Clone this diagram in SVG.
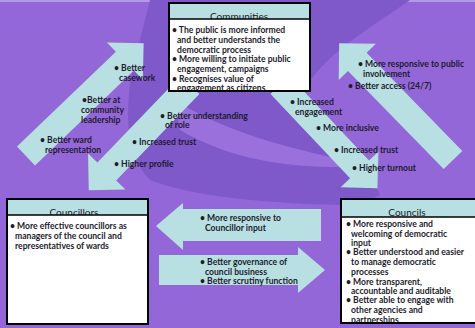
<svg xmlns="http://www.w3.org/2000/svg" width="475" height="328" viewBox="0 0 475 328">
  <defs>
    <style>
      .arrow { fill: #b8e0e2; }
      .lbl { font-family: Lato, "Open Sans", sans-serif; font-weight: 700; font-size: 8.6px; fill: #1d1b2b; }
      .title { font-family: Lato, "Open Sans", sans-serif; font-weight: 400; font-size: 10px; fill: #1d1b2b; text-anchor: middle; }
      .head { fill: #b8e0e2; }
      .body { fill: #ffffff; }
      .frame { fill: none; stroke: #000000; stroke-width: 2; }
      .rule { stroke: #000000; stroke-width: 1.5; }
    </style>
    <clipPath id="clipComm"><rect x="170" y="19" width="139" height="71"/></clipPath>
    <clipPath id="clipCouncils"><rect x="342" y="217" width="140" height="105"/></clipPath>
  </defs>

  <!-- background with a soft darker swirl -->
  <rect width="475" height="328" fill="#9467d9"/>
  <rect width="475" height="2" fill="#b09ce3"/>
  <path d="M150,0 L410,0 C360,35 315,60 300,100 C330,140 365,160 380,195 L360,205 C300,205 200,200 150,180 C120,150 125,90 140,40 Z" fill="#7f58ca"/>
  <path d="M175,100 C220,130 290,150 370,165 C300,172 230,160 180,130 Z" fill="#9a70dd"/>

  <!-- connectors -->
  <g id="connectors">
    <!-- councillors to communities -->
    <polygon class="arrow" transform="translate(26,156) rotate(-43.8)" points="0,-13 137,-13 137,-26 163,0 137,26 137,13 0,13"/>
    <!-- communities to councillors -->
    <polygon class="arrow" transform="translate(190,85) rotate(133.9)" points="0,-13 120,-13 120,-26 146,0 120,26 120,13 0,13"/>
    <!-- communities to councils -->
    <polygon class="arrow" transform="translate(280,85) rotate(46.7)" points="0,-13 116,-13 116,-26 142,0 116,26 116,13 0,13"/>
    <!-- councils to communities -->
    <polygon class="arrow" transform="translate(453,160) rotate(-134.3)" points="0,-13 137,-13 137,-26 163,0 137,26 137,13 0,13"/>
    <!-- councils to councillors -->
    <polygon class="arrow" points="321,209 183,209 183,203 156,226 183,250 183,241 321,241"/>
    <!-- councillors to councils -->
    <polygon class="arrow" points="159,255 298,255 298,247 325,270 298,293 298,285 159,285"/>

    <g class="lbl">
      <text x="114" y="71">• Better</text>
      <text x="119" y="81">casework</text>
      <text x="82" y="103">•Better at</text>
      <text x="81" y="113">community</text>
      <text x="81" y="123">leadership</text>
      <text x="40" y="143">• Better ward</text>
      <text x="45" y="153">representation</text>

      <text x="160" y="119">• Better understanding</text>
      <text x="165" y="127.5">of role</text>
      <text x="132" y="145">• Increased trust</text>
      <text x="114" y="167">• Higher profile</text>

      <text x="290" y="105">• Increased</text>
      <text x="295" y="115">engagement</text>
      <text x="316" y="131">• More inclusive</text>
      <text x="334" y="153">• Increased trust</text>
      <text x="352" y="171">• Higher turnout</text>

      <text x="358" y="67">• More responsive to public</text>
      <text x="363" y="77">involvement</text>
      <text x="348" y="89">• Better access (24/7)</text>

      <text x="200" y="221">• More responsive to</text>
      <text x="205" y="231">Councillor input</text>
      <text x="200" y="265">• Better governance of</text>
      <text x="205" y="275">council business</text>
      <text x="200" y="283.5">• Better scrutiny function</text>
    </g>
  </g>

  <!-- Communities -->
  <g id="communities">
    <rect class="head" x="169" y="3" width="141" height="88"/>
    <text class="title" x="239" y="20">Communities</text>
    <rect class="body" x="169" y="19" width="141" height="72"/>
    <g class="lbl" clip-path="url(#clipComm)">
      <text x="172" y="33">• The public is more informed</text>
      <text x="177" y="43">and better understands the</text>
      <text x="177" y="53">democratic process</text>
      <text x="172" y="61.5">• More willing to initiate public</text>
      <text x="177" y="71.5">engagement, campaigns</text>
      <text x="172" y="81.5">• Recognises value of</text>
      <text x="177" y="91">engagement as citizens</text>
    </g>
    <line class="rule" x1="169" y1="19" x2="310" y2="19"/>
    <rect class="frame" x="169" y="3" width="141" height="88"/>
  </g>

  <!-- Councillors -->
  <g id="councillors">
    <rect class="head" x="7" y="199" width="141" height="125"/>
    <text class="title" x="74" y="216">Councillors</text>
    <rect class="body" x="7" y="215" width="141" height="109"/>
    <g class="lbl">
      <text x="10" y="229">• More effective councillors as</text>
      <text x="15" y="239">managers of the council and</text>
      <text x="15" y="249">representatives of wards</text>
    </g>
    <line class="rule" x1="7" y1="215" x2="148" y2="215"/>
    <rect class="frame" x="7" y="199" width="141" height="125"/>
  </g>

  <!-- Councils -->
  <g id="councils">
    <rect class="head" x="341" y="199" width="140" height="124"/>
    <text class="title" x="407" y="216">Councils</text>
    <rect class="body" x="341" y="217" width="140" height="106"/>
    <g class="lbl" clip-path="url(#clipCouncils)">
      <text x="346" y="227">• More responsive and</text>
      <text x="351" y="237">welcoming of democratic</text>
      <text x="351" y="245.5">input</text>
      <text x="346" y="255">• Better understood and easier</text>
      <text x="351" y="265">to manage democratic</text>
      <text x="351" y="275">processes</text>
      <text x="346" y="285">• More transparent,</text>
      <text x="351" y="293.5">accountable and auditable</text>
      <text x="346" y="303">• Better able to engage with</text>
      <text x="351" y="313">other agencies and</text>
      <text x="351" y="323">partnerships</text>
    </g>
    <line class="rule" x1="341" y1="217" x2="481" y2="217"/>
    <rect class="frame" x="341" y="199" width="140" height="124"/>
  </g>
</svg>
